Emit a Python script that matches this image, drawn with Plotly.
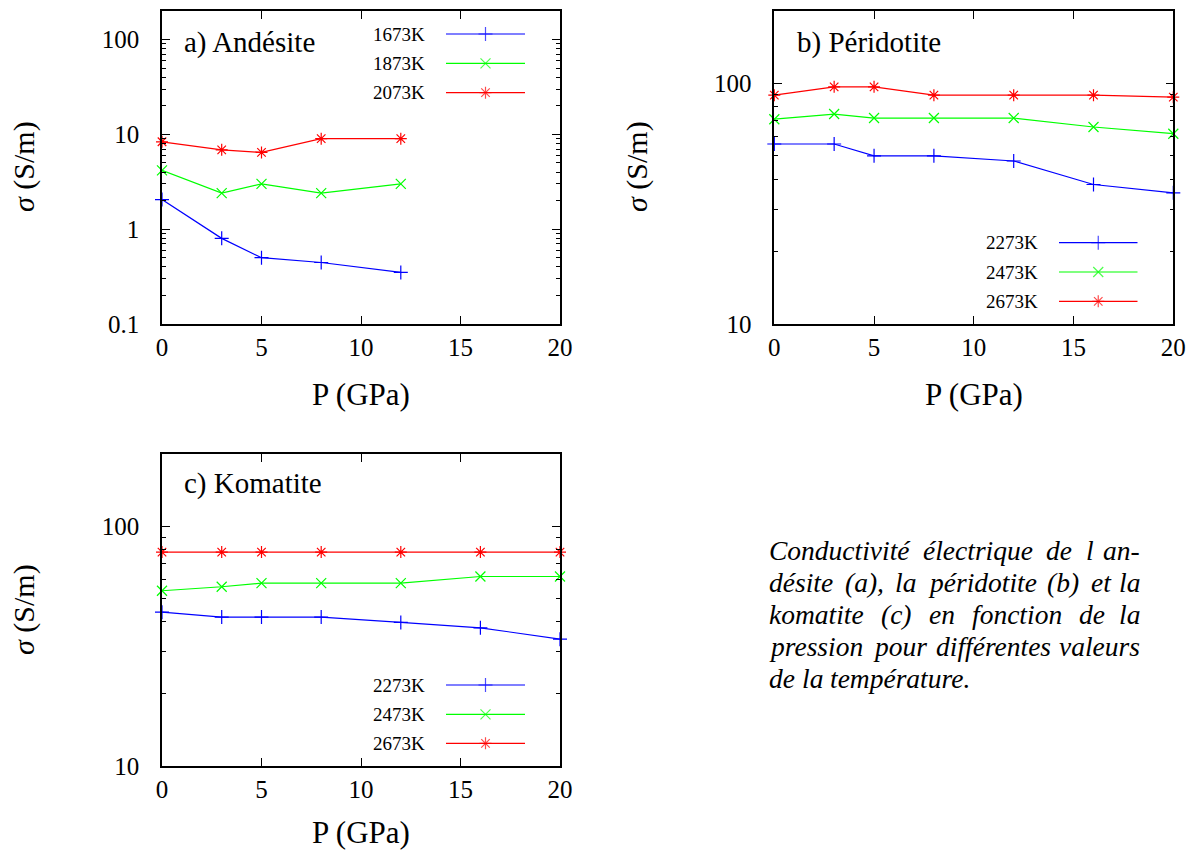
import math
import plotly.graph_objects as go

# ---------------- data ----------------
P_a = [0, 3, 5, 8, 12]
a_1673 = [2.05, 0.80, 0.50, 0.445, 0.35]
a_1873 = [4.17, 2.40, 3.00, 2.40, 3.00]
a_2073 = [8.35, 6.87, 6.45, 9.00, 9.00]

P_bc = [0, 3, 5, 8, 12, 16, 20]
b_2273 = [56.0, 56.0, 50.0, 50.0, 47.6, 38.0, 35.1]
b_2473 = [71.0, 74.6, 71.8, 71.8, 71.8, 65.9, 61.8]
b_2673 = [89.4, 96.8, 96.8, 89.4, 89.4, 89.4, 87.7]

c_2273 = [43.8, 41.8, 41.8, 41.8, 39.7, 37.7, 33.8]
c_2473 = [53.8, 55.9, 57.9, 57.9, 57.9, 61.7, 61.7]
c_2673 = [78.0, 78.0, 78.0, 78.0, 78.0, 78.0, 78.0]

labels_a = ["1673K", "1873K", "2073K"]
labels_bc = ["2273K", "2473K", "2673K"]
titles = ["a) Andésite", "b) Péridotite", "c) Komatite"]
xticks = [0, 5, 10, 15, 20]
caption = ["Conductivité électrique de l an-",
           "désite (a), la péridotite (b) et la",
           "komatite (c) en fonction de la",
           "pression pour différentes valeurs",
           "de la température."]

# ---------------- style ----------------
W, H = 1197, 856
FONT = "Liberation Serif"
colors = ["#0000ff", "#00ff00", "#ff0000"]
symbols = ["cross-thin", "x-thin", "asterisk"]

def px(x):
    return x / W

def py(y):
    return 1 - y / H

# panel pixel boxes: (left, right, top, bottom)
boxes = {
    1: (162, 560, 11, 324),
    2: (774.3, 1173.3, 11, 324),
    3: (162, 560, 454, 766),
}

fig = go.Figure()

panels = [
    (1, P_a, [a_1673, a_1873, a_2073], labels_a, [0.1, 200], [0.1, 1, 10, 100], ["0.1", "1", "10", "100"]),
    (2, P_bc, [b_2273, b_2473, b_2673], labels_bc, [10, 200], [10, 100], ["10", "100"]),
    (3, P_bc, [c_2273, c_2473, c_2673], labels_bc, [10, 200], [10, 100], ["10", "100"]),
]

for k, xs, series, labs, yr, tv, tt in panels:
    xa = "x" if k == 1 else f"x{k}"
    ya = "y" if k == 1 else f"y{k}"
    for s, col, sym, lab in zip(series, colors, symbols, labs):
        fig.add_trace(go.Scatter(
            x=xs, y=s, xaxis=xa, yaxis=ya, mode="lines+markers", name=lab,
            line=dict(color=col, width=1.2),
            marker=dict(symbol=sym, size=10, color=col, line=dict(color=col, width=1.2)),
            cliponaxis=False, showlegend=False))
    l, r, t, b = boxes[k]
    minor_vals = [m * 10 ** e for e in range(-2, 3) for m in range(2, 10)
                  if yr[0] < m * 10 ** e < yr[1]]
    axkey = "" if k == 1 else str(k)
    fig.layout["xaxis" + axkey] = dict(
        domain=[px(l), px(r)], anchor=ya, range=[0, 20], automargin=False,
        tickvals=xticks, ticktext=[str(v) for v in xticks],
        ticks="inside", ticklen=8, tickwidth=1, tickcolor="black",
        showline=True, linecolor="black", linewidth=1.5, mirror="allticks",
        showgrid=False, zeroline=False, ticklabelstandoff=0,
        tickfont=dict(family=FONT, size=25, color="black"))
    fig.layout["yaxis" + axkey] = dict(
        domain=[py(b), py(t)], anchor=xa, type="log", automargin=False,
        range=[math.log10(yr[0]), math.log10(yr[1])],
        tickvals=tv, ticktext=tt,
        ticks="inside", ticklen=8, tickwidth=1, tickcolor="black",
        minor=dict(tickmode="array", tickvals=minor_vals, ticks="inside",
                   ticklen=4, tickwidth=1, tickcolor="black", showgrid=False),
        showline=True, linecolor="black", linewidth=1.5, mirror="allticks",
        showgrid=False, zeroline=False, ticklabelstandoff=16,
        tickfont=dict(family=FONT, size=25, color="black"))

# overlay axis in pixel coordinates for legend keys
fig.layout["xaxis4"] = dict(domain=[0, 1], range=[0, W], visible=False, anchor="y4")
fig.layout["yaxis4"] = dict(domain=[0, 1], range=[H, 0], visible=False, anchor="x4")

legend_pos = [
    (427, 446, 525, [34, 63.3, 92.7], labels_a),
    (1040, 1059, 1137.5, [242.7, 272, 301.3], labels_bc),
    (427, 446, 525, [685, 714.3, 743.3], labels_bc),
]
ann = []
for tx, x0, x1, rows, labs in legend_pos:
    for yy, col, sym, lab in zip(rows, colors, symbols, labs):
        fig.add_trace(go.Scatter(
            x=[x0, (x0 + x1) / 2, x1], y=[yy, yy, yy], xaxis="x4", yaxis="y4",
            mode="lines+markers", line=dict(color=col, width=1.2),
            marker=dict(symbol=sym, size=[0, 10, 0], color=col,
                        line=dict(color=col, width=1.2)),
            showlegend=False, hoverinfo="skip", cliponaxis=False))
        ann.append(dict(x=px(tx), y=py(yy), xref="paper", yref="paper",
                        text=lab, showarrow=False, xanchor="right", yanchor="middle",
                        font=dict(family=FONT, size=19, color="black")))

# panel titles
for (tx, ty), txt in zip([(182, 43), (795, 43), (182, 483)], titles):
    ann.append(dict(x=px(tx), y=py(ty), xref="paper", yref="paper", text=txt,
                    showarrow=False, xanchor="left", yanchor="middle",
                    font=dict(family=FONT, size=29, color="black")))

# axis titles
for (tx, ty) in [(361, 394), (973.8, 394), (361, 832)]:
    ann.append(dict(x=px(tx), y=py(ty), xref="paper", yref="paper", text="P (GPa)",
                    showarrow=False, xanchor="center", yanchor="middle",
                    font=dict(family=FONT, size=31, color="black")))
for (tx, ty) in [(24, 167), (637, 167), (24, 610)]:
    ann.append(dict(x=px(tx), y=py(ty), xref="paper", yref="paper",
                    text="<i>σ</i> (S/m)", textangle=-90,
                    showarrow=False, xanchor="center", yanchor="middle",
                    font=dict(family=FONT, size=30, color="black")))

# caption, justified using approximate Times-Italic glyph widths (per 1000 em)
CAP_L, CAP_R, CAP_SIZE = 767, 1141.5, 27.5
GW = {" ": 250, "(": 333, ")": 333, ",": 250, "-": 333, ".": 250,
      "a": 500, "b": 500, "c": 444, "d": 500, "e": 444, "f": 278, "g": 500,
      "i": 278, "k": 444, "l": 278, "m": 722, "n": 500, "o": 500, "p": 500,
      "q": 500, "r": 389, "s": 389, "t": 278, "u": 500, "v": 444, "C": 667,
      "é": 444}

def wwidth(w):
    return sum(GW.get(ch, 500) for ch in w) / 1000 * CAP_SIZE

for i, line in enumerate(caption):
    words = line.split(" ")
    yy = 550 + i * 32
    last_line = i == len(caption) - 1
    widths = [wwidth(w) for w in words]
    if last_line:
        gap = GW[" "] / 1000 * CAP_SIZE
    else:
        gap = (CAP_R - CAP_L - sum(widths)) / (len(words) - 1)
    xcur = CAP_L
    for j, w in enumerate(words):
        if j == len(words) - 1 and not last_line:
            xx, anc = CAP_R, "right"
        else:
            xx, anc = xcur, "left"
        ann.append(dict(x=px(xx), y=py(yy), xref="paper", yref="paper",
                        text=f"<i>{w}</i>", showarrow=False, xanchor=anc,
                        yanchor="middle", font=dict(family=FONT, size=CAP_SIZE, color="black")))
        xcur += widths[j] + gap

fig.update_layout(
    width=W, height=H, margin=dict(l=0, r=0, t=0, b=0),
    paper_bgcolor="white", plot_bgcolor="rgba(0,0,0,0)",
    annotations=ann, showlegend=False)

fig.write_html("out.html", config={"displayModeBar": False},
               post_script="document.body.style.margin='0px';document.body.style.overflow='hidden';")
